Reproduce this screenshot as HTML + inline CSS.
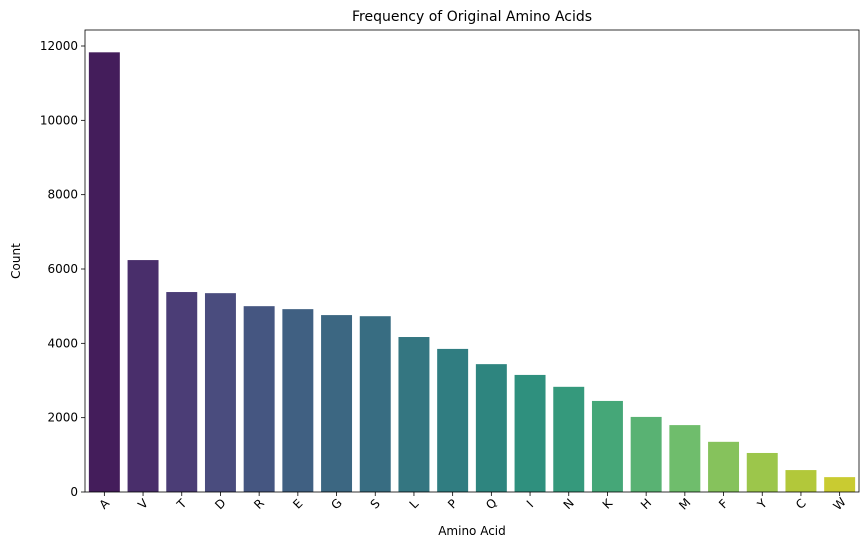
<!DOCTYPE html>
<html><head><meta charset="utf-8"><style>
body{margin:0;background:#fff;}
svg text{font-family:"DejaVu Sans","Liberation Sans",sans-serif;fill:#000;}
</style></head><body>
<svg id="chart" width="868" height="551" xmlns="http://www.w3.org/2000/svg">
<rect width="868" height="551" fill="#fff"/>
<g id="plot"></g>
</svg>
<script>
const categories=["A","V","T","D","R","E","G","S","L","P","Q","I","N","K","H","M","F","Y","C","W"];
const counts=[11830,6240,5380,5350,5000,4920,4760,4730,4170,3850,3440,3150,2830,2450,2020,1800,1350,1050,590,400];
const yTicks=[0,2000,4000,6000,8000,10000,12000];
const colors=["#471365","#482475","#463480","#414487","#3b528b","#355f8d","#306a8e","#2c738e","#277f8e","#23898e","#1f948c","#1fa088","#24aa83","#35b779","#4ac16d","#62cb5f","#83d34b","#a2da37","#c2df23","#e2e418"];
const L=85,R=859,T=30,B=492,yMax=12000,y12=46;
const ns="http://www.w3.org/2000/svg";
const g=document.getElementById('plot');
function desat(hex,p){
 let r=parseInt(hex.substr(1,2),16)/255,gg=parseInt(hex.substr(3,2),16)/255,b=parseInt(hex.substr(5,2),16)/255;
 const mx=Math.max(r,gg,b),mn=Math.min(r,gg,b);let h=0,s=0;const l=(mx+mn)/2;
 if(mx!==mn){const d=mx-mn;s=l>0.5?d/(2-mx-mn):d/(mx+mn);
  if(mx===r)h=(gg-b)/d+(gg<b?6:0);else if(mx===gg)h=(b-r)/d+2;else h=(r-gg)/d+4;h/=6;}
 s*=p;
 function f(p2,q,t){if(t<0)t+=1;if(t>1)t-=1;if(t<1/6)return p2+(q-p2)*6*t;if(t<1/2)return q;if(t<2/3)return p2+(q-p2)*(2/3-t)*6;return p2;}
 const q=l<0.5?l*(1+s):l+s-l*s,p2=2*l-q;
 const c=[f(p2,q,h+1/3),f(p2,q,h),f(p2,q,h-1/3)].map(v=>Math.round(v*255));
 return `rgb(${c[0]},${c[1]},${c[2]})`;
}
function y(v){return B-(v/yMax)*(B-y12);}
const slot=(R-L)/categories.length;
function x(i){return L+slot*(i+0.5);}
function mk(t,a){const e=document.createElementNS(ns,t);for(const k in a)e.setAttribute(k,a[k]);g.appendChild(e);return e;}
categories.forEach((c,i)=>{
 const r=mk('rect',{x:x(i)-slot*0.4,y:y(counts[i]),width:slot*0.8,height:B-y(counts[i]),fill:desat(colors[i],0.75)});
 
 
 const tk=mk('line',{x1:x(i),x2:x(i),y1:B,y2:B+4,stroke:'#000','stroke-width':0.8});
 
 
 const t=mk('text',{x:x(i),y:B+16,'font-size':12,'text-anchor':'middle',transform:`rotate(-45 ${x(i)} ${B+12})`});
 t.textContent=c;
 
 
});
yTicks.forEach(v=>{
 const tk=mk('line',{x1:L-4,x2:L,y1:y(v),y2:y(v),stroke:'#000','stroke-width':0.8});
 
 
 const t=mk('text',{x:L-7,y:y(v)+4,'font-size':12,'text-anchor':'end'});
 t.textContent=v;
 
 
});
const fr=mk('rect',{x:L,y:T,width:R-L,height:B-T,fill:'none',stroke:'#000','stroke-width':0.8});


const ti=mk('text',{x:(L+R)/2,y:21,'font-size':14,'text-anchor':'middle'});ti.textContent='Frequency of Original Amino Acids';


const xl=mk('text',{x:(L+R)/2,y:535,'font-size':12,'text-anchor':'middle'});xl.textContent='Amino Acid';


const yl=mk('text',{x:20,y:(T+B)/2,'font-size':12,'text-anchor':'middle',transform:`rotate(-90 20 ${(T+B)/2})`});yl.textContent='Count';


</script>
</body></html>
